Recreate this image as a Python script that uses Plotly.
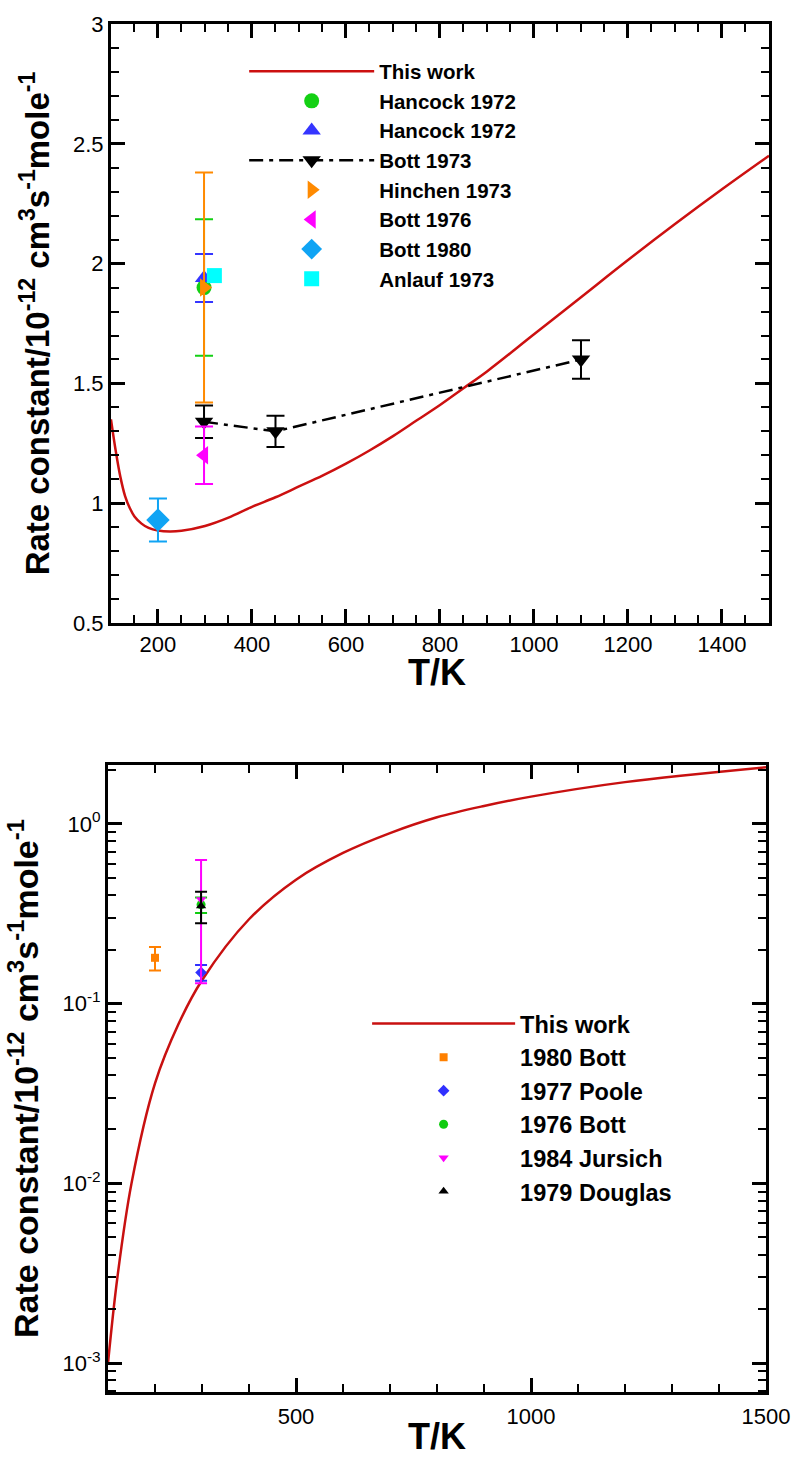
import plotly.graph_objects as go

# ---------------- Top panel data ----------------
top_curve_T = [100, 110, 120, 130, 140, 150, 165, 180, 200, 225, 250, 300, 350, 400, 450, 500,
               550, 600, 650, 700, 750, 800, 850, 900, 1000, 1100, 1200, 1300, 1400, 1500]
top_curve_k = [1.35, 1.22, 1.11, 1.03, 0.98, 0.945, 0.915, 0.897, 0.886, 0.882, 0.885, 0.905, 0.94,
               0.985, 1.025, 1.07, 1.115, 1.165, 1.22, 1.28, 1.345, 1.41, 1.48, 1.55, 1.705, 1.86,
               2.015, 2.165, 2.31, 2.45]

hancock_a_T, hancock_a_k, hancock_a_err = [298], [1.90], [0.285]
hancock_b_T, hancock_b_k, hancock_b_err = [298], [1.94], [0.10]
bott73_T, bott73_k, bott73_err = [298, 450, 1100], [1.34, 1.30, 1.60], [0.068, 0.065, 0.08]
hinchen_T, hinchen_k, hinchen_err = [298], [1.90], [0.48]
bott76_T, bott76_k, bott76_err = [298], [1.20], [0.12]
bott80_T, bott80_k, bott80_err = [200], [0.93], [0.09]
anlauf_T, anlauf_k = [320], [1.95]

# ---------------- Bottom panel data ----------------
bot_curve_T = [100, 120, 150, 200, 250, 300, 400, 500, 600, 700, 800, 900, 1000, 1200, 1500]
bot_curve_k = [0.0010, 0.0030, 0.0100, 0.036, 0.077, 0.135, 0.295, 0.49, 0.69, 0.89, 1.09,
               1.26, 1.42, 1.71, 2.07]

b_bott80_T, b_bott80_k, b_bott80_err = [200], [0.18], [0.027]
b_poole_T, b_poole_k, b_poole_err = [298], [0.149], [0.015]
b_bott76_T, b_bott76_k, b_bott76_err = [298], [0.355], [0.035]
b_jursich_T, b_jursich_k, b_jursich_err = [298], [0.38], [0.25]
b_douglas_T, b_douglas_k, b_douglas_err = [298], [0.35], [0.07]

FONT = "Liberation Sans"
ytitle = "Rate constant/10<sup>-12</sup> cm<sup>3</sup>s<sup>-1</sup>mole<sup>-1</sup>"
xtitle = "T/K"

fig = go.Figure()

def pts(x, y, err, name, color, symbol, size, xa, ya, legend, capw, line=None):
    kw = {}
    if err is not None:
        kw["error_y"] = dict(type="data", array=err, visible=True, color=color,
                             thickness=2, width=capw)
    mode = "markers" if line is None else "lines+markers"
    fig.add_trace(go.Scatter(x=x, y=y, name=name, mode=mode, xaxis=xa, yaxis=ya,
                             legend=legend, line=line,
                             marker=dict(color=color, symbol=symbol, size=size,
                                         line=dict(width=0)), **kw))

# top panel
fig.add_trace(go.Scatter(x=top_curve_T, y=top_curve_k, name="This work", mode="lines",
                         line=dict(color="#cc1010", width=2.5, shape="spline", smoothing=1.0),
                         xaxis="x", yaxis="y", legend="legend"))
pts(hancock_a_T, hancock_a_k, hancock_a_err, "Hancock 1972", "#14d014", "circle", 15, "x", "y", "legend", 9)
pts(hancock_b_T, hancock_b_k, hancock_b_err, "Hancock 1972", "#3535ff", "triangle-up", 16, "x", "y", "legend", 9)
pts(bott73_T, bott73_k, bott73_err, "Bott 1973", "black", "triangle-down", 16, "x", "y", "legend", 9,
    line=dict(color="black", width=2.5, dash="14px,6px,4px,6px"))
pts(hinchen_T, hinchen_k, hinchen_err, "Hinchen 1973", "#ff8a00", "triangle-right", 16, "x", "y", "legend", 9)
pts(bott76_T, bott76_k, bott76_err, "Bott 1976", "#ff00ff", "triangle-left", 16, "x", "y", "legend", 9)
pts(bott80_T, bott80_k, bott80_err, "Bott 1980", "#10a4f4", "diamond", 18, "x", "y", "legend", 9)
pts(anlauf_T, anlauf_k, None, "Anlauf 1973", "#00ffff", "square", 15, "x", "y", "legend", 9)

# bottom panel
fig.add_trace(go.Scatter(x=bot_curve_T, y=bot_curve_k, name="This work", mode="lines",
                         line=dict(color="#c81010", width=2.5, shape="spline", smoothing=1.0),
                         xaxis="x2", yaxis="y2", legend="legend2"))
pts(b_bott80_T, b_bott80_k, b_bott80_err, "1980 Bott", "#ff8000", "square", 8, "x2", "y2", "legend2", 6)
pts(b_poole_T, b_poole_k, b_poole_err, "1977 Poole", "#3030ff", "diamond", 9, "x2", "y2", "legend2", 6)
pts(b_bott76_T, b_bott76_k, b_bott76_err, "1976 Bott", "#10cc10", "circle", 9, "x2", "y2", "legend2", 6)
pts(b_jursich_T, b_jursich_k, b_jursich_err, "1984 Jursich", "#ff00ff", "triangle-down", 9, "x2", "y2", "legend2", 6)
pts(b_douglas_T, b_douglas_k, b_douglas_err, "1979 Douglas", "black", "triangle-up", 9, "x2", "y2", "legend2", 6)

axis_common = dict(showline=True, linecolor="black", linewidth=3, mirror="allticks",
                   ticks="inside", ticklen=14, tickwidth=3, tickcolor="black",
                   showgrid=False, zeroline=False, automargin=False,
                   tickfont=dict(family=FONT, size=22, color="black"))
minor_common = dict(ticks="inside", ticklen=8, tickwidth=1.5, tickcolor="black", showgrid=False)

log_minor = [m * 10.0 ** e for e in range(-4, 1) for m in range(2, 10)]
title_font = dict(family=FONT, size=36, color="black", weight="bold")

fig.update_layout(
    template="none",
    width=796, height=1459,
    margin=dict(l=108, r=27, t=24, b=67, autoexpand=False),
    paper_bgcolor="white", plot_bgcolor="white",
    showlegend=True,
    xaxis=dict(domain=[0.0045, 1.0], range=[100, 1500], tick0=0, dtick=200,
               minor=dict(dtick=50, tick0=0, **minor_common), anchor="y",
               **axis_common),
    yaxis=dict(domain=[0.5621, 1.0], range=[0.5, 3.0], tick0=0, dtick=0.5,
               minor=dict(dtick=0.1, tick0=0, **minor_common), anchor="x",
               title=dict(text=ytitle, font=dict(family=FONT, size=33, color="black", weight="bold"),
                          standoff=14),
               **axis_common),
    xaxis2=dict(domain=[0.0, 0.9955], range=[100, 1500], tick0=0, dtick=500,
                minor=dict(dtick=100, tick0=0, **minor_common), anchor="y2",
                ticklabelstandoff=3,
                **axis_common),
    yaxis2=dict(domain=[0.0, 0.4583], type="log", range=[-3.161, 0.328],
                tickmode="array", tickvals=[1e-3, 1e-2, 1e-1, 1],
                ticktext=["10<sup>-3</sup>", "10<sup>-2</sup>", "10<sup>-1</sup>", "10<sup>0</sup>"],
                minor=dict(tickmode="array", tickvals=log_minor, **minor_common), anchor="x2",
                title=dict(text=ytitle, font=dict(family=FONT, size=34, color="black", weight="bold"),
                           standoff=14),
                **axis_common),
    legend=dict(x=0.206, y=0.980, xanchor="left", yanchor="top", bgcolor="rgba(0,0,0,0)",
                itemwidth=125, tracegroupgap=0, borderwidth=0,
                font=dict(family=FONT, size=20.5, color="black", weight="bold")),
    legend2=dict(x=0.392, y=0.2852, xanchor="left", yanchor="top", bgcolor="rgba(0,0,0,0)",
                 itemwidth=143, tracegroupgap=0, borderwidth=0,
                 font=dict(family=FONT, size=23.5, color="black", weight="bold")),
    annotations=[
        dict(text=xtitle, xref="paper", yref="paper", x=0.4977, y=0.5263,
             xanchor="center", yanchor="middle", showarrow=False, font=title_font),
        dict(text=xtitle, xref="paper", yref="paper", x=0.4977, y=-0.0325,
             xanchor="center", yanchor="middle", showarrow=False, font=title_font),
    ],
)

fig.write_html("out.html")
